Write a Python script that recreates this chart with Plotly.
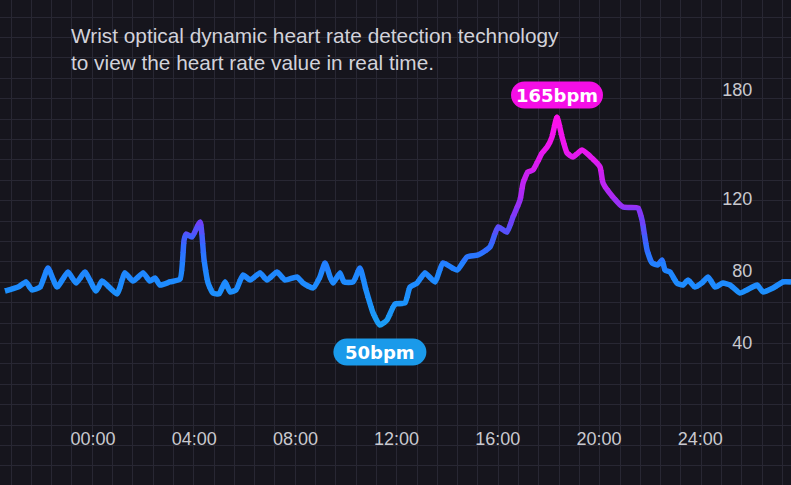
import plotly.graph_objects as go

# ---------------- data ----------------
hours = [-3.48, -2.96, -2.65, -2.41, -2.09, -1.78, -1.42, -0.99, -0.67, -0.32,
         0.12, 0.36, 0.95, 1.26, 1.58, 1.98, 2.25, 2.45, 2.65, 3.04,
         3.44, 3.60, 3.68, 3.91, 4.23, 4.39, 4.55, 4.74, 4.98, 5.22,
         5.42, 5.65, 5.93, 6.21, 6.60, 6.88, 7.27, 7.59, 8.06, 8.30,
         8.70, 8.97, 9.17, 9.37, 9.49, 9.76, 9.92, 10.28, 10.55, 10.79,
         11.07, 11.34, 11.62, 11.94, 12.33, 12.53, 12.81, 13.12, 13.52, 13.83,
         14.39, 14.78, 15.22, 15.69, 16.01, 16.36, 16.60, 16.88, 17.00, 17.19,
         17.39, 17.75, 17.95, 18.14, 18.34, 18.54, 18.74, 18.97, 19.33, 19.72,
         20.04, 20.16, 20.55, 20.95, 21.54, 21.70, 21.90, 22.10, 22.33, 22.49,
         22.61, 22.81, 23.08, 23.32, 23.52, 23.79, 24.11, 24.31, 24.59, 24.90,
         25.18, 25.57, 25.85, 26.25, 26.48, 26.88, 27.27, 27.59]
bpm = [68.8, 71.0, 73.8, 69.4, 71.0, 81.5, 71.0, 79.3, 73.2, 79.3,
       68.8, 74.3, 67.2, 78.8, 74.3, 78.8, 74.3, 76.0, 72.1, 73.8,
       75.4, 97.0, 100.3, 98.7, 107.0, 86.0, 73.2, 67.7, 67.2, 73.8,
       68.3, 69.4, 77.7, 74.9, 78.8, 74.9, 79.3, 74.9, 76.6, 73.2,
       70.5, 76.6, 84.3, 76.6, 73.2, 78.8, 73.8, 73.8, 81.5, 69.4,
       56.7, 50.0, 52.8, 61.6, 62.2, 71.0, 73.2, 78.8, 73.8, 84.3,
       80.4, 87.6, 88.7, 93.1, 104.2, 101.4, 109.7, 119.1, 128.5, 134.6,
       135.7, 145.1, 148.4, 153.9, 165.0, 153.9, 145.1, 142.9, 146.8, 142.3,
       137.4, 128.5, 120.8, 115.2, 114.7, 108.1, 91.5, 84.3, 83.2, 86.0,
       80.4, 79.3, 73.2, 72.1, 74.9, 71.0, 73.8, 76.6, 71.0, 73.2,
       72.1, 67.7, 69.4, 72.1, 68.3, 70.5, 73.8, 73.8]

x_tick_vals = [0, 4, 8, 12, 16, 20, 24]
x_tick_text = ["00:00", "04:00", "08:00", "12:00", "16:00", "20:00", "24:00"]
y_tick_vals = [40, 80, 120, 180]
title_lines = ["Wrist optical dynamic heart rate detection technology",
               "to view the heart rate value in real time."]

# ---------------- layout constants ----------------
W, H = 791, 485
X_RANGE = [-3.676, 27.589]
Y_RANGE = [-38.43, 229.68]
BG = "#16151d"
GRID = "#282733"
TICK_COLOR = "#c9c9cf"

color_stops = [(40, (25, 165, 238)), (60, (28, 149, 251)), (80, (31, 133, 255)),
               (95, (52, 102, 255)), (110, (122, 58, 248)), (125, (184, 38, 242)),
               (145, (232, 24, 238)), (165, (255, 16, 236))]


def color_at(v):
    if v <= color_stops[0][0]:
        c = color_stops[0][1]
    elif v >= color_stops[-1][0]:
        c = color_stops[-1][1]
    else:
        for (v0, c0), (v1, c1) in zip(color_stops[:-1], color_stops[1:]):
            if v0 <= v <= v1:
                t = (v - v0) / (v1 - v0)
                c = tuple(round(a + (b - a) * t) for a, b in zip(c0, c1))
                break
    return "rgb(%d,%d,%d)" % c


def pill(cx, cy, w, h):
    r = h / 2.0
    k = 0.5523 * r
    left, right = cx - w / 2.0 + r, cx + w / 2.0 - r
    top, bot = cy + r, cy - r
    return (f"M{left},{top} L{right},{top} "
            f"C{right + k},{top} {right + r},{cy + k} {right + r},{cy} "
            f"C{right + r},{cy - k} {right + k},{bot} {right},{bot} "
            f"L{left},{bot} "
            f"C{left - k},{bot} {left - r},{cy - k} {left - r},{cy} "
            f"C{left - r},{cy + k} {left - k},{top} {left},{top} Z")


fig = go.Figure()

# background grid subplot
fig.add_trace(go.Scatter(x=[None], y=[None], xaxis="x", yaxis="y",
                         showlegend=False, hoverinfo="skip"))
# main axes holder
fig.add_trace(go.Scatter(x=[None], y=[None], xaxis="x2", yaxis="y2",
                         showlegend=False, hoverinfo="skip"))

# gradient line: same series drawn in horizontal bands, each clipped to its band
R0, R1 = Y_RANGE
edges = [R0] + list(range(40, 171, 5)) + [R1]
px_unit = (R1 - R0) / H
layout_axes = {}
for i, (lo, hi) in enumerate(zip(edges[:-1], edges[1:])):
    hi_ext = min(hi + px_unit * 1.0, R1)
    n = 3 + i
    layout_axes[f"yaxis{n}"] = dict(domain=[(lo - R0) / (R1 - R0), (hi_ext - R0) / (R1 - R0)],
                                    range=[lo, hi_ext], visible=False, anchor="x2",
                                    fixedrange=True)
    mid = min(max((lo + hi) / 2.0, 40), 170)
    fig.add_trace(go.Scatter(x=hours, y=bpm, xaxis="x2", yaxis=f"y{n}", mode="lines",
                             line=dict(color=color_at(mid), width=5.5, shape="spline",
                                       smoothing=0.5),
                             showlegend=False, hoverinfo="skip"))

peak_i = bpm.index(max(bpm))
low_i = bpm.index(min(bpm))

shapes = [
    dict(type="path", xref="x2", yref="y2", xsizemode="pixel", ysizemode="pixel",
         xanchor=hours[peak_i], yanchor=bpm[peak_i], path=pill(0, 22, 92, 27),
         fillcolor="#f50ee6", line=dict(width=0)),
    dict(type="path", xref="x2", yref="y2", xsizemode="pixel", ysizemode="pixel",
         xanchor=hours[low_i], yanchor=bpm[low_i], path=pill(0, -27, 93, 27),
         fillcolor="#1a9aea", line=dict(width=0)),
]

annotations = [
    dict(xref="x2", yref="y2", x=hours[peak_i], y=bpm[peak_i], yshift=22,
         text=f"{bpm[peak_i]:.0f}bpm", showarrow=False,
         font=dict(family="DejaVu Sans", size=18, color="white", weight="bold"),
         xanchor="center", yanchor="middle"),
    dict(xref="x2", yref="y2", x=hours[low_i], y=bpm[low_i], yshift=-27,
         text=f"{bpm[low_i]:.0f}bpm", showarrow=False,
         font=dict(family="DejaVu Sans", size=18, color="white", weight="bold"),
         xanchor="center", yanchor="middle"),
    dict(xref="paper", yref="paper", x=69 / W, y=1 - 49.5 / H,
         text="<br>".join(title_lines), showarrow=False, align="left",
         xanchor="left", yanchor="middle",
         font=dict(family="Liberation Sans", size=20.8, color="#d2d2da")),
]

fig.update_layout(
    width=W, height=H,
    margin=dict(l=0, r=0, t=0, b=0, pad=0),
    paper_bgcolor=BG, plot_bgcolor="rgba(0,0,0,0)",
    showlegend=False,
    xaxis=dict(domain=[0, 1], range=[0, W], tick0=11, dtick=20.3, showgrid=True,
               gridcolor=GRID, gridwidth=1, showticklabels=False, zeroline=False,
               showline=False, ticks="", anchor="y", fixedrange=True),
    yaxis=dict(domain=[0, 1], range=[H, 0], tick0=17, dtick=20.4, showgrid=True,
               gridcolor=GRID, gridwidth=1, showticklabels=False, zeroline=False,
               showline=False, ticks="", anchor="x", fixedrange=True),
    xaxis2=dict(domain=[0, 1], range=X_RANGE, anchor="free", position=0.1216,
                tickvals=x_tick_vals, ticktext=x_tick_text, showgrid=False,
                zeroline=False, showline=False, ticks="",
                tickfont=dict(family="Liberation Sans", size=18, color=TICK_COLOR),
                fixedrange=True),
    yaxis2=dict(domain=[0, 1], range=Y_RANGE, anchor="free", position=0.951,
                side="left", tickvals=y_tick_vals, showgrid=False, zeroline=False,
                showline=False, ticks="",
                tickfont=dict(family="Liberation Sans", size=18, color=TICK_COLOR),
                fixedrange=True),
    shapes=shapes,
    annotations=annotations,
    **layout_axes,
)

fig.write_html("out.html")
